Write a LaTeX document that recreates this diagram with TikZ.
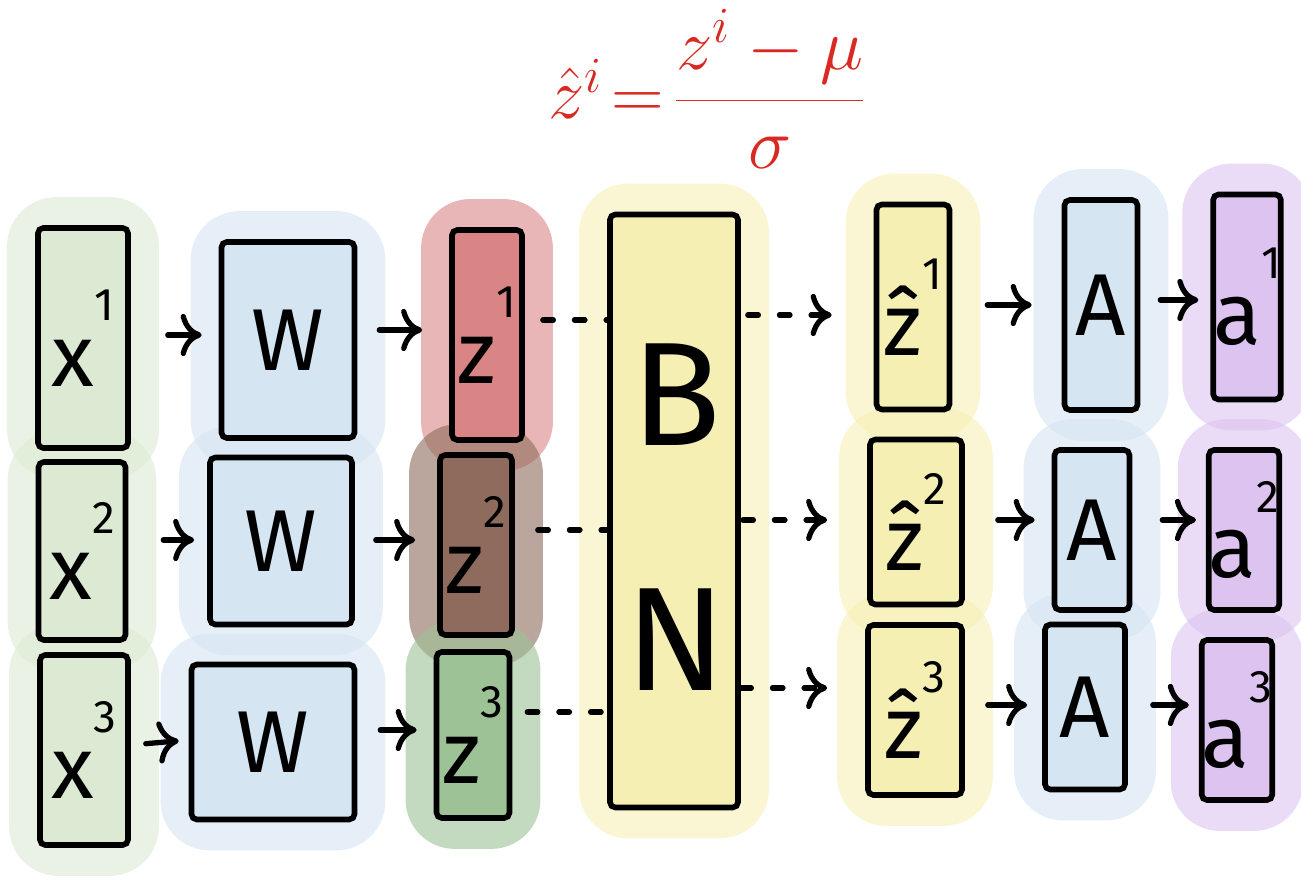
\documentclass[tikz,border=0pt]{standalone}
\usepackage{fontspec}
\setmainfont{Fira Sans}
\usetikzlibrary{arrows.meta,backgrounds,fit,calc}
\definecolor{cx}{HTML}{DCE9D3}
\definecolor{cw}{HTML}{D5E5F2}
\definecolor{cr}{HTML}{D98585}
\definecolor{cb}{HTML}{8E6B5C}
\definecolor{cg}{HTML}{9DC296}
\definecolor{cy}{HTML}{F6EFB4}
\definecolor{cp}{HTML}{DCC3F0}
\definecolor{cf}{HTML}{D82A22}
\newcommand{\supx}[1]{\raisebox{0.75em}{\fontsize{13}{13}\selectfont #1}}
\newcommand{\bnformula}{$\hat{z}^{i}\mkern-3mu=\mkern-3mu\displaystyle\frac{z^{i}-\mu}{\sigma}$}
\begin{document}
\begin{tikzpicture}[
  box/.style={draw=black, line width=1.6pt, inner sep=0pt, rounded corners=1.5pt,
              font=\fontsize{25}{28}\selectfont},
  blob/.style={fill=#1, draw=none, rounded corners=14pt, inner sep=8pt, opacity=.6},
  arr/.style={line width=1.5pt, line cap=round, -{To[length=6pt,width=12pt,line width=1.5pt]}},
  dotl/.style={line width=1.5pt, line cap=round, dash pattern=on 3pt off 6pt},
  dotarr/.style={dotl, -{To[length=6pt,width=12pt,line width=1.5pt]}},
]
\useasboundingbox (0,0) rectangle (13.01,8.81);

% formula
\node[text=cf, font=\fontsize{21}{25}\selectfont, inner sep=1pt] (f) at (7.08,7.92) {\bnformula};

% inputs
\node[box, fill=cx, minimum width=.90cm, minimum height=2.20cm] (x1) at (0.83,5.43) {x\supx{1}};
\node[box, fill=cx, minimum width=.87cm, minimum height=1.78cm] (x2) at (0.82,3.30) {x\supx{2}};
\node[box, fill=cx, minimum width=.88cm, minimum height=1.90cm] (x3) at (0.84,1.31) {x\supx{3}};
% weights
\node[box, fill=cw, minimum width=1.33cm, minimum height=1.96cm] (W1) at (2.88,5.41) {W};
\node[box, fill=cw, minimum width=1.42cm, minimum height=1.67cm] (W2) at (2.81,3.40) {W};
\node[box, fill=cw, minimum width=1.63cm, minimum height=1.55cm] (W3) at (2.73,1.39) {W};
% z
\node[box, fill=cr, minimum width=.70cm, minimum height=2.10cm] (z1) at (4.87,5.46) {z\supx{1}};
\node[box, fill=cb, minimum width=.72cm, minimum height=1.80cm] (z2) at (4.76,3.36) {z\supx{2}};
\node[box, fill=cg, minimum width=.73cm, minimum height=1.66cm] (z3) at (4.73,1.46) {z\supx{3}};
% BN
\node[box, fill=cy, minimum width=1.28cm, minimum height=5.93cm] (BN) at (6.74,3.70) {};
\node[font=\fontsize{42}{46}\selectfont] (B) at (6.76,4.86) {B};
\node[font=\fontsize{42}{46}\selectfont] (N) at (6.76,2.41) {N};
% z hat
\node[box, fill=cy, minimum width=.73cm, minimum height=2.05cm] (h1) at (9.13,5.74) {\^{z}\supx{1}};
\node[box, fill=cy, minimum width=.92cm, minimum height=1.65cm] (h2) at (9.16,3.59) {\^{z}\supx{2}};
\node[box, fill=cy, minimum width=.94cm, minimum height=1.70cm] (h3) at (9.15,1.71) {\^{z}\supx{3}};
% activation
\node[box, fill=cw, minimum width=.73cm, minimum height=2.10cm] (A1) at (11.01,5.76) {A};
\node[box, fill=cw, minimum width=.75cm, minimum height=1.60cm] (A2) at (10.92,3.51) {A};
\node[box, fill=cw, minimum width=.80cm, minimum height=1.65cm] (A3) at (10.85,1.74) {A};
% outputs
\node[box, fill=cp, minimum width=.65cm, minimum height=2.05cm] (a1) at (12.47,5.84) {a\supx{1}};
\node[box, fill=cp, minimum width=.68cm, minimum height=1.60cm] (a2) at (12.44,3.51) {a\supx{2}};
\node[box, fill=cp, minimum width=.65cm, minimum height=1.60cm] (a3) at (12.37,1.61) {a\supx{3}};

% watercolour blobs
\begin{scope}[on background layer]
\foreach \n/\c in {x1/cx,x2/cx,x3/cx,W1/cw,W2/cw,W3/cw,z1/cr,z2/cb,z3/cg,BN/cy,
                   h1/cy,h2/cy,h3/cy,A1/cw,A2/cw,A3/cw,a1/cp,a2/cp,a3/cp}{
  \node[blob=\c, fit=(\n)] {};
}
\end{scope}

% row 1
\draw[arr, shorten <=.37cm, shorten >=.17cm] (x1.east |- 0,5.46) -- (W1.west |- 0,5.46);
\draw[arr, shorten <=.22cm, shorten >=.27cm] (W1.east |- 0,5.51) -- (z1.west |- 0,5.51);
\draw[dotl, shorten <=.18cm] (z1.east |- 0,5.61) -- (BN.west |- 0,5.61);
\draw[dotarr, shorten <=.07cm, shorten >=.42cm] (BN.east |- 0,5.66) -- (h1.west |- 0,5.66);
\draw[arr, shorten <=.35cm, shorten >=.30cm] (h1.east |- 0,5.76) -- (A1.west |- 0,5.76);
\draw[arr, shorten <=.20cm, shorten >=.12cm] (A1.east |- 0,5.81) -- (a1.west |- 0,5.81);
% row 2
\draw[arr, shorten <=.35cm, shorten >=.13cm] (x2.east |- 0,3.41) -- (W2.west |- 0,3.41);
\draw[arr, shorten <=.21cm, shorten >=.22cm] (W2.east |- 0,3.41) -- (z2.west |- 0,3.41);
\draw[dotl, shorten <=.23cm] (z2.east |- 0,3.51) -- (BN.west |- 0,3.51);
\draw[dotarr, shorten <=.02cm, shorten >=.40cm] (BN.east |- 0,3.61) -- (h2.west |- 0,3.61);
\draw[arr, shorten <=.33cm, shorten >=.17cm] (h2.east |- 0,3.61) -- (A2.west |- 0,3.61);
\draw[arr, shorten <=.30cm, shorten >=.10cm] (A2.east |- 0,3.61) -- (a2.west |- 0,3.61);
% row 3
\draw[arr, shorten <=.15cm, shorten >=.10cm] (x3.east |- 0,1.36) -- (W3.west |- 0,1.41);
\draw[arr, shorten <=.23cm, shorten >=.17cm] (W3.east |- 0,1.51) -- (z3.west |- 0,1.51);
\draw[dotl, shorten <=.15cm] (z3.east |- 0,1.69) -- (BN.west |- 0,1.69);
\draw[dotarr, shorten <=.0cm, shorten >=.38cm] (BN.east |- 0,1.93) -- (h3.west |- 0,1.93);
\draw[arr, shorten <=.23cm, shorten >=.15cm] (h3.east |- 0,1.76) -- (A3.west |- 0,1.76);
\draw[arr, shorten <=.25cm, shorten >=.10cm] (A3.east |- 0,1.76) -- (a3.west |- 0,1.76);
\end{tikzpicture}
\end{document}
